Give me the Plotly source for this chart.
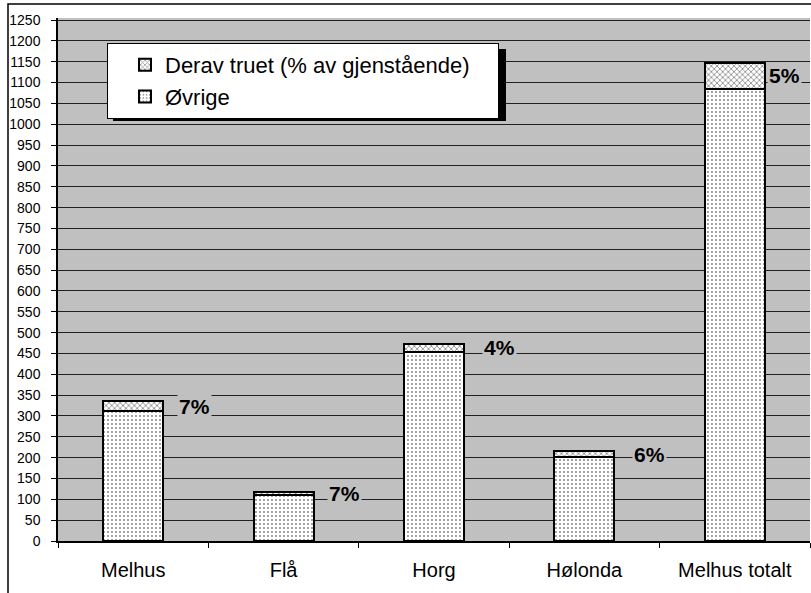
import plotly.graph_objects as go

# Områder og verdier (antall)
kategorier = ["Melhus", "Flå", "Horg", "Hølonda", "Melhus totalt"]
ovrige = [312, 110, 454, 202, 1085]
truet = [23, 8, 19, 13, 62]
y_ticks = list(range(0, 1251, 50))

FONT = "Arial, Liberation Sans, sans-serif"
PLOT_BG = "#C0C0C0"

fig = go.Figure()

fig.add_trace(go.Bar(
    name="Øvrige",
    x=kategorier,
    y=ovrige,
    marker=dict(
        color="white",
        line=dict(color="black", width=2),
        pattern=dict(shape=".", fgcolor="black", bgcolor="white",
                     size=4, solidity=0.18),
    ),
))
fig.add_trace(go.Bar(
    name="Derav truet (% av gjenstående)",
    x=kategorier,
    y=truet,
    marker=dict(
        color="white",
        line=dict(color="black", width=2),
        pattern=dict(shape="x", fgcolor="#222222", bgcolor="white",
                     size=4, solidity=0.4),
    ),
))

# Prosentetiketter ved toppen av hver søyle
label_shift = [61, 61, 65, 65, 50]
for kat, o, t, dx in zip(kategorier, ovrige, truet, label_shift):
    pct = round(100 * t / (o + t))
    fig.add_annotation(
        x=kat, y=o + t / 2, xref="x", yref="y",
        text=f"<b>{pct}%</b>", showarrow=False,
        xshift=dx, yanchor="middle", xanchor="center",
        font=dict(family=FONT, size=21, color="black"),
        bgcolor=PLOT_BG, borderpad=1,
    )

# Plot area geometry in px (used for frame and legend shadow)
W, H = 811, 593
L, R, T, B = 58, 1, 18, 52
pw, ph = W - L - R, H - T - B


def px_x(x):
    return (x - L) / pw


def px_y(y):
    return 1 - (y - T) / ph


# Outer chart frame
fig.add_shape(type="rect", xref="paper", yref="paper",
              x0=px_x(8), x1=px_x(830), y0=px_y(610), y1=px_y(4),
              line=dict(color="black", width=1.5), fillcolor="rgba(0,0,0,0)",
              layer="above")

# Legend drop shadow
fig.add_shape(type="rect", xref="paper", yref="paper",
              x0=px_x(113), x1=px_x(506), y0=px_y(121), y1=px_y(49),
              line=dict(width=0), fillcolor="black", layer="above")

fig.update_layout(
    width=W, height=H,
    margin=dict(l=L, r=R, t=T, b=B, pad=0),
    paper_bgcolor="white",
    plot_bgcolor=PLOT_BG,
    barmode="stack",
    bargap=0.6,
    font=dict(family=FONT, color="black"),
    showlegend=True,
    legend=dict(
        orientation="h",
        x=px_x(107), y=px_y(43), xanchor="left", yanchor="top",
        bgcolor="white", bordercolor="black", borderwidth=1,
        traceorder="reversed",
        font=dict(family=FONT, size=22, color="black"),
        indentation=17,
        entrywidth=328,
        entrywidthmode="pixels",
        tracegroupgap=0,
    ),
    xaxis=dict(
        showline=True, linecolor="black", linewidth=1.5,
        ticks="outside", tickson="boundaries", ticklen=5,
        tickcolor="black",
        tickfont=dict(family=FONT, size=20, color="black"),
        ticklabelstandoff=10,
        showgrid=False, mirror=False,
    ),
    yaxis=dict(
        range=[0, 1255],
        tickvals=y_ticks,
        ticktext=[str(v) for v in y_ticks],
        showline=True, linecolor="black", linewidth=1.5,
        ticks="outside", ticklen=5, tickcolor="black",
        tickfont=dict(family=FONT, size=14, color="black"),
        ticklabelstandoff=8,
        showgrid=True, gridcolor="#202020", gridwidth=1.2,
        zeroline=False,
    ),
)

fig.write_html("out.html")
